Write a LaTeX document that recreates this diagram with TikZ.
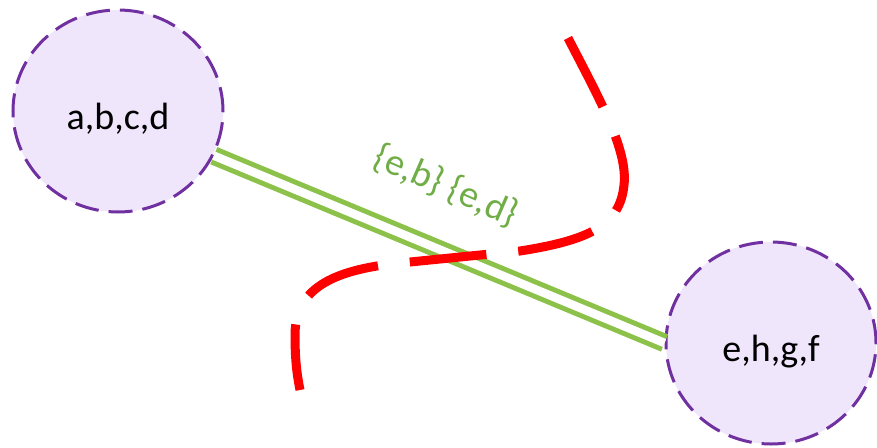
\documentclass[tikz,border=0pt]{standalone}
\usepackage{fontspec}
\setmainfont{Carlito}
\usetikzlibrary{shapes.geometric}
\definecolor{nodefill}{RGB}{239,230,252}
\definecolor{nodeline}{RGB}{112,48,160}
\definecolor{edgegreen}{RGB}{140,193,74}
\definecolor{labelgreen}{RGB}{112,173,71}
\definecolor{cutred}{RGB}{255,0,0}
\begin{document}
\begin{tikzpicture}[x=1pt,y=-1pt,
  setnode/.style={ellipse, draw=nodeline, fill=nodefill, line width=3pt,
    dash pattern=on 24pt off 10pt, minimum width=210pt, minimum height=202pt,
    inner sep=0pt, text height=38pt, text depth=2pt,
    font=\fontsize{38}{44}\selectfont},
  edgestyle/.style={draw=edgegreen, line width=5pt, double=white, double distance=8.5pt},
  labelstyle/.style={text=labelgreen, font=\fontsize{38}{44}\selectfont, inner sep=0pt},
  cutstyle/.style={draw=cutred, line width=9pt, dash pattern=on 77pt off 32pt}
]
\useasboundingbox (0,0) rectangle (877,447);
\node[setnode] (n1) at (118,111) {a,b,c,d};
\node[setnode] (n2) at (771,343) {e,h,g,f};
\draw[edgestyle] (n1.-25) -- (n2.west);
\node[labelstyle, rotate=-23.5] (lbl) at (446,186) {\{e,b\} \{e,d\}};
\draw[cutstyle] (568,38) .. controls (600,100) and (628,150) .. (624,185)
  .. controls (620,225) and (590,240) .. (520,251) -- (400,263)
  .. controls (330,270) and (295,290) .. (295,335)
  .. controls (295,360) and (297,375) .. (300,390);
\end{tikzpicture}
\end{document}
